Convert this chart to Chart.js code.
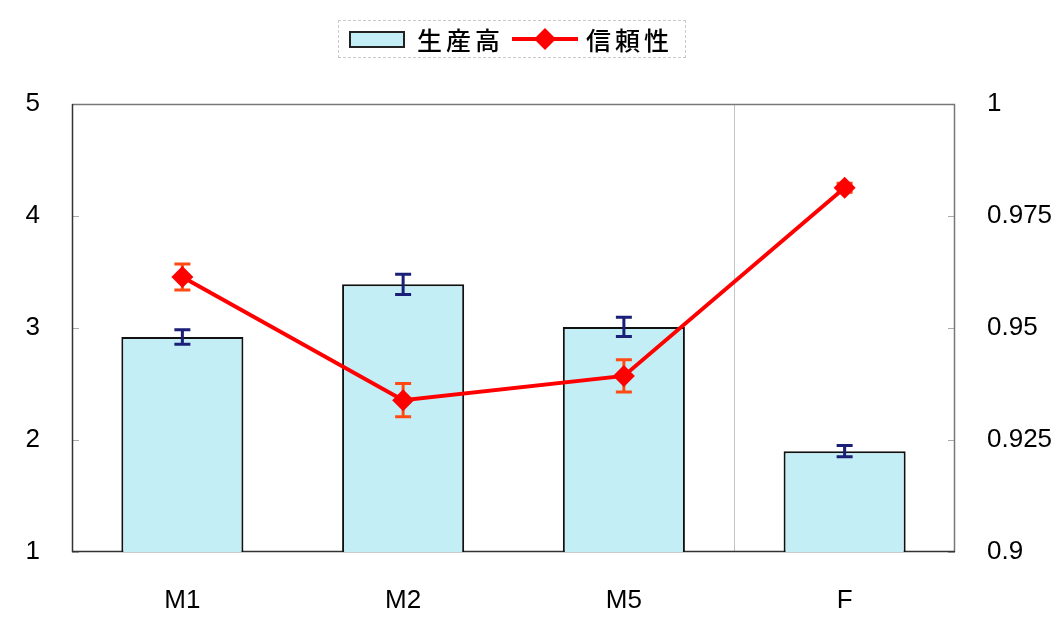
<!DOCTYPE html>
<html>
<head>
<meta charset="utf-8">
<script src="https://cdn.jsdelivr.net/npm/chart.js@4/dist/chart.umd.min.js"></script>
<style>
    html, body { margin: 0; padding: 0; background: #fff; }
    #wrap { position: relative; width: 1061px; height: 632px; }
    #legend {
        position: absolute; left: 338px; top: 20px; width: 348px; height: 38px;
        border: 1px dashed #c8c8c8; box-sizing: border-box;
        display: flex; align-items: center;
        font-family: "Noto Sans CJK JP", sans-serif; font-size: 25px; font-weight: 500; color: #000;
        letter-spacing: 4px;
    }
    #legend .swatch-bar {
        width: 56px; height: 17px; margin-left: 10px; margin-right: 12px;
        background: #c4eef5; border: 2px solid #222; box-sizing: border-box;
    }
    #legend canvas { margin-left: 8px; margin-right: 8px; }
</style>
</head>
<body>
<div id="wrap">
    <canvas id="chart" width="1061" height="632"></canvas>
    <div id="legend">
        <span class="swatch-bar"></span><span>生産高</span>
        <canvas id="lineSwatch" width="66" height="24"></canvas><span>信頼性</span>
    </div>
</div>
<script>
// categories and series
const categories = ['M1', 'M2', 'M5', 'F'];
const output = [2.92, 3.39, 3.01, 1.90];
const outputErr = [0.065, 0.09, 0.085, 0.05];
const reliability = [0.9614, 0.9339, 0.9393, 0.9813];
const reliabilityErr = [0.0029, 0.0037, 0.0036, 0.001];

// axis labels
const leftTickLabels = ['1', '2', '3', '4', '5'];
const rightTickLabels = ['0.9', '0.925', '0.95', '0.975', '1'];

const tickFont = { family: "'Liberation Sans', Arial, sans-serif", size: 26 };

// legend swatch for the line series
(function () {
    const c = document.getElementById('lineSwatch').getContext('2d');
    c.strokeStyle = '#ff0000';
    c.lineWidth = 4;
    c.beginPath();
    c.moveTo(0, 12);
    c.lineTo(66, 12);
    c.stroke();
    c.fillStyle = '#ff0000';
    c.beginPath();
    c.moveTo(33, 1);
    c.lineTo(44, 12);
    c.lineTo(33, 23);
    c.lineTo(22, 12);
    c.closePath();
    c.fill();
})();

function drawErrors(chart, index) {
    const ds = chart.data.datasets[index];
    if (!ds.errors) return;
    const meta = chart.getDatasetMeta(index);
    const scale = chart.scales[meta.yAxisID];
    const ctx = chart.ctx;
    ctx.save();
    ctx.strokeStyle = ds.errorColor;
    ctx.lineWidth = 3;
    meta.data.forEach((el, i) => {
        const v = ds.data[i];
        const e = ds.errors[i];
        const x = el.x;
        const yTop = scale.getPixelForValue(v + e);
        const yBot = scale.getPixelForValue(v - e);
        ctx.beginPath();
        ctx.moveTo(x, yTop);
        ctx.lineTo(x, yBot);
        ctx.moveTo(x - 8, yTop);
        ctx.lineTo(x + 8, yTop);
        ctx.moveTo(x - 8, yBot);
        ctx.lineTo(x + 8, yBot);
        ctx.stroke();
    });
    ctx.restore();
}

// error bars: under the line for the line series, over the fill for bars
const errorBars = {
    id: 'errorBars',
    beforeDatasetDraw(chart, args) {
        if (chart.data.datasets[args.index].type === 'line') drawErrors(chart, args.index);
    },
    afterDatasetDraw(chart, args) {
        if (chart.data.datasets[args.index].type === 'bar') drawErrors(chart, args.index);
    }
};

// plot frame, inner tick marks and the divider before F
const frame = {
    id: 'frame',
    beforeDatasetsDraw(chart) {
        const { ctx, chartArea: a, scales } = chart;
        ctx.save();
        const xs = scales.x;
        const xm = (xs.getPixelForValue(2) + xs.getPixelForValue(3)) / 2;
        ctx.strokeStyle = '#c4c4c4';
        ctx.lineWidth = 1;
        ctx.beginPath();
        ctx.moveTo(Math.round(xm) + 0.5, a.top);
        ctx.lineTo(Math.round(xm) + 0.5, a.bottom);
        ctx.stroke();

        ctx.strokeStyle = '#aaa';
        ctx.beginPath();
        scales.y.ticks.forEach(t => {
            const y = Math.round(scales.y.getPixelForValue(t.value)) + 0.5;
            ctx.moveTo(a.left, y);
            ctx.lineTo(a.left + 7, y);
        });
        scales.y1.ticks.forEach(t => {
            const y = Math.round(scales.y1.getPixelForValue(t.value)) + 0.5;
            ctx.moveTo(a.right, y);
            ctx.lineTo(a.right - 7, y);
        });
        ctx.stroke();

        // top and right edges are lighter than the value axes
        ctx.lineWidth = 1.5;
        ctx.strokeStyle = '#777';
        ctx.beginPath();
        ctx.moveTo(a.left, a.top + 0.5);
        ctx.lineTo(a.right - 0.5, a.top + 0.5);
        ctx.lineTo(a.right - 0.5, a.bottom);
        ctx.stroke();
        ctx.strokeStyle = '#333';
        ctx.beginPath();
        ctx.moveTo(a.left + 0.5, a.top);
        ctx.lineTo(a.left + 0.5, a.bottom - 0.5);
        ctx.lineTo(a.right, a.bottom - 0.5);
        ctx.stroke();
        ctx.restore();
    }
};

new Chart(document.getElementById('chart'), {
    data: {
        labels: categories,
        datasets: [
            {
                type: 'line',
                label: '信頼性',
                data: reliability,
                errors: reliabilityErr,
                errorColor: '#ff4a14',
                yAxisID: 'y1',
                order: 0,
                borderColor: '#ff0000',
                borderWidth: 4,
                tension: 0,
                pointStyle: 'rectRot',
                pointRadius: 11,
                pointBackgroundColor: '#ff0000',
                pointBorderWidth: 0
            },
            {
                type: 'bar',
                label: '生産高',
                data: output,
                errors: outputErr,
                errorColor: '#1a1f78',
                yAxisID: 'y',
                order: 1,
                backgroundColor: '#c4eef5',
                borderColor: '#111',
                borderWidth: 2,
                categoryPercentage: 1,
                barPercentage: 0.553
            }
        ]
    },
    options: {
        responsive: false,
        animation: false,
        layout: { padding: { top: 104, left: 0, right: 0, bottom: 0 } },
        plugins: {
            legend: { display: false },
            tooltip: { enabled: false }
        },
        scales: {
            x: {
                grid: { display: false },
                border: { display: false },
                ticks: { font: tickFont, color: '#000', padding: 25, maxRotation: 0, autoSkip: false },
                afterFit(s) { s.height = 80; }
            },
            y: {
                position: 'left',
                min: 1,
                max: 5,
                grid: { display: false },
                border: { display: false },
                ticks: {
                    stepSize: 1,
                    font: tickFont,
                    color: '#000',
                    padding: 24,
                    callback: (v, i) => leftTickLabels[i]
                },
                afterFit(s) { s.width = 72; }
            },
            y1: {
                position: 'right',
                min: 0.9,
                max: 1,
                grid: { display: false },
                border: { display: false },
                ticks: {
                    stepSize: 0.025,
                    font: tickFont,
                    color: '#000',
                    padding: 24,
                    callback: (v, i) => rightTickLabels[i]
                },
                afterFit(s) { s.width = 106; }
            }
        }
    },
    plugins: [frame, errorBars]
});
</script>
</body>
</html>
